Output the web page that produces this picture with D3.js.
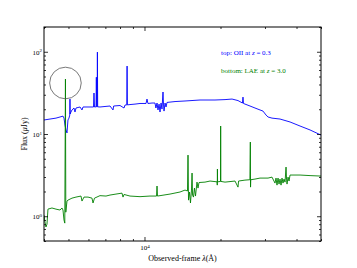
<!DOCTYPE html>
<html>
<head>
<meta charset="utf-8">
<script src="https://cdn.jsdelivr.net/npm/d3@7"></script>
<style>
  body { margin: 0; background: #fff; }
  text { font-family: "Liberation Serif", "DejaVu Serif", serif; }
</style>
</head>
<body>
<div id="chart"></div>
<script>
var W = 357, H = 268;
var margin = { top: 27, left: 44, bottom: 27, right: 36 };
var width = W - margin.left - margin.right;
var height = H - margin.top - margin.bottom;

// top spectrum: [OII] emitter at z = 0.3  (wavelength in Angstrom, flux in uJy)
var topWave = [4000, 4225, 4462, 4628, 4756, 4800, 4844, 4888, 4933, 4977, 5023, 5060, 5069, 5080, 5093,
    5163, 5258, 5306, 5355, 5555, 5656, 5709, 5975, 6281, 6310, 6340, 6430, 6447, 6465, 6495, 6509, 6525,
    6665, 6977, 7302, 7505, 7550, 8000, 8297, 8374, 8510, 8532, 8555, 8761, 9171, 9600, 10140, 10230, 10320,
    10710, 11005, 11100, 11210, 11310, 11420, 11520, 11630, 11730, 11840, 11890, 11950, 12060, 12170, 12280,
    13210, 14470, 16590, 19020, 20840, 22220, 23460, 24440, 24550, 24660, 26170, 27390, 28670, 29460, 30290,
    30850, 31980, 34410, 37700, 41300, 45240, 50000];
var topFlux = [14.8, 15.2, 15.6, 16.1, 16.5, 15.6, 12.8, 11.2, 10.3, 14.8, 15.6, 17.0, 26.6, 17.5, 18.0,
    19.6, 20.7, 18.5, 20.7, 21.3, 19.6, 21.3, 21.3, 21.3, 31.5, 21.3, 21.4, 49, 21.4, 21.4, 99, 21.4,
    21.3, 21.6, 21.9, 19.6, 21.9, 22.2, 20.7, 22.5, 22.6, 67, 22.6, 22.8, 23.1, 23.5, 23.5, 26.6, 23.5,
    23.8, 23.8, 20.7, 23.8, 19.6, 23.1, 18.5, 23.8, 20.1, 32.4, 23.1, 19.0, 23.8, 21.3, 24.2,
    24.8, 25.2, 25.9, 25.9, 26.2, 26.6, 25.5, 23.8, 28.1, 23.5, 21.9, 20.7, 19.6, 19.0, 17.0,
    16.1, 15.6, 15.2, 14.0, 12.5, 11.2, 9.7];

// bottom spectrum: Lyman-alpha emitter at z = 3.0
var botWave = [4000, 4036, 4073, 4110, 4147, 4301, 4462, 4628, 4713, 4756, 4800, 4835, 4864, 4880, 4933,
    4977, 5163, 5355, 5605, 5656, 5760, 5975, 6196, 6254, 6340, 6665, 7040, 7302, 7712, 8147, 8222, 8297,
    8761, 9600, 10515, 11160, 11210, 11260, 12620, 13820, 14470, 14800, 14870, 14940, 15080, 15210, 15350,
    15430, 15500, 15630, 15770, 15920, 16140, 16290, 16440, 17360, 18180, 19380, 19420, 19444, 19470,
    20000, 20028, 20060, 20840, 22830, 23460, 23580, 25000, 26150, 26252, 26300, 26350, 27390, 28670,
    30850, 31980, 32870, 33180, 33480, 33790, 34100, 34410, 34730, 35040, 35360, 35680, 36020, 36350,
    36520, 36680, 37020, 37360, 37700, 41300, 45240, 50000];
var botFlux = [1.03, 0.85, 0.74, 0.80, 1.22, 1.26, 1.22, 1.19, 1.26, 1.19, 0.90, 0.825, 46.6, 1.12, 1.53,
    1.57, 1.66, 1.71, 1.76, 1.53, 1.71, 1.71, 1.66, 1.45, 1.66, 1.78, 1.76, 1.81, 1.86, 1.91, 1.71, 1.84,
    1.76, 1.73, 1.76, 1.76, 2.33, 1.76, 1.86, 1.97, 2.08, 2.03, 5.54, 1.57, 1.97, 1.45, 2.08,
    3.35, 1.81, 1.71, 2.20, 1.76, 2.60, 2.20, 2.57, 2.60, 2.68, 2.62, 2.39, 3.75, 2.62,
    2.65, 12.5, 2.65, 2.60, 2.68, 2.26, 2.68, 2.75, 2.78, 7.98, 2.26, 2.78, 2.83, 2.91,
    2.91, 2.99, 2.53, 2.91, 2.39, 2.91, 2.46, 2.83, 2.39, 2.91, 2.53, 2.83, 2.60, 3.96,
    2.83, 2.46, 2.99, 2.68, 3.17, 3.17, 3.12, 3.08];

var xMajor = [10000];
var xMinor = [4000, 5000, 6000, 7000, 8000, 9000, 20000, 30000, 40000, 50000];
var yMajor = [1, 10, 100];
var yMinor = [0.5, 0.6, 0.7, 0.8, 0.9, 2, 3, 4, 5, 6, 7, 8, 9, 20, 30, 40, 50, 60, 70, 80, 90, 200];

var labelTop = "top: OII at ";
var labelBot = "bottom: LAE at ";
var zTop = " = 0.3", zBot = " = 3.0";
var lineWave = 4864, lineFlux = 41.7;   // circled feature

var svg = d3.select("#chart").append("svg")
    .attr("width", W)
    .attr("height", H)
    .append("g")
    .attr("transform", "translate(" + margin.left + "," + margin.top + ")");

var x = d3.scaleLog().domain([4000, 50000]).range([0, width]);
var y = d3.scaleLog().domain([0.5, 200]).range([height, 0]);

svg.append("clipPath").attr("id", "clip")
    .append("rect").attr("width", width).attr("height", height);

var line = d3.line()
    .x(function (d) { return x(d[0]); })
    .y(function (d) { return y(d[1]); });

var topData = topWave.map(function (w, i) { return [w, topFlux[i]]; });
var botData = botWave.map(function (w, i) { return [w, botFlux[i]]; });

var plot = svg.append("g").attr("clip-path", "url(#clip)");
plot.append("path").datum(topData)
    .attr("d", line)
    .attr("fill", "none")
    .attr("stroke", "#0000ff")
    .attr("stroke-width", 0.9);
plot.append("path").datum(botData)
    .attr("d", line)
    .attr("fill", "none")
    .attr("stroke", "#008000")
    .attr("stroke-width", 0.9);

// circle round the line
svg.append("circle")
    .attr("cx", x(lineWave))
    .attr("cy", y(lineFlux))
    .attr("r", 15.8)
    .attr("fill", "none")
    .attr("stroke", "#555")
    .attr("stroke-width", 0.8);

// power-of-ten labels
function sup(sel, exp) {
    sel.each(function (d) {
        var t = d3.select(this).text("");
        t.append("tspan").text("10");
        t.append("tspan").attr("dy", "-0.45em").attr("font-size", "5px")
            .text(Math.round(Math.log10(d)));
    });
}

// axes, ticks inward
function tickAxis(axis, g) {
    g.call(axis);
    g.select(".domain").remove();
    g.selectAll(".tick line").attr("stroke", "#000").attr("stroke-width", 0.8);
    g.selectAll("text").attr("font-family", "Liberation Serif").attr("font-size", "7px").attr("fill", "#000");
    return g;
}

var gx = tickAxis(d3.axisBottom(x).tickValues(xMajor).tickSize(-4).tickPadding(3),
    svg.append("g").attr("transform", "translate(0," + height + ")"));
sup(gx.selectAll(".tick text").attr("dy", "0.9em"), 0);
tickAxis(d3.axisBottom(x).tickValues(xMinor).tickSize(-2).tickFormat(""),
    svg.append("g").attr("transform", "translate(0," + height + ")"));
tickAxis(d3.axisTop(x).tickValues(xMajor).tickSize(-4).tickFormat(""), svg.append("g"));
tickAxis(d3.axisTop(x).tickValues(xMinor).tickSize(-2).tickFormat(""), svg.append("g"));

var gy = tickAxis(d3.axisLeft(y).tickValues(yMajor).tickSize(-4).tickPadding(2), svg.append("g"));
sup(gy.selectAll(".tick text"), 0);
tickAxis(d3.axisLeft(y).tickValues(yMinor).tickSize(-2).tickFormat(""), svg.append("g"));
tickAxis(d3.axisRight(y).tickValues(yMajor).tickSize(-4).tickFormat(""),
    svg.append("g").attr("transform", "translate(" + width + ",0)"));
tickAxis(d3.axisRight(y).tickValues(yMinor).tickSize(-2).tickFormat(""),
    svg.append("g").attr("transform", "translate(" + width + ",0)"));

// frame
svg.append("rect")
    .attr("width", width).attr("height", height)
    .attr("fill", "none").attr("stroke", "#000").attr("stroke-width", 1);

// legend texts
var t1 = svg.append("text").attr("x", 177).attr("y", 28)
    .attr("font-size", "7px").attr("fill", "#0000ff");
t1.append("tspan").text(labelTop);
t1.append("tspan").attr("font-style", "italic").text("z");
t1.append("tspan").text(zTop);

var t2 = svg.append("text").attr("x", 177).attr("y", 46)
    .attr("font-size", "7px").attr("fill", "#008000");
t2.append("tspan").text(labelBot);
t2.append("tspan").attr("font-style", "italic").text("z");
t2.append("tspan").text(zBot);

// axis labels
var xl = svg.append("text")
    .attr("x", width / 2).attr("y", height + 20)
    .attr("text-anchor", "middle").attr("font-size", "8px");
xl.append("tspan").text("Observed-frame ");
xl.append("tspan").attr("font-style", "italic").text("λ");
xl.append("tspan").text("(Å)");

var yl = svg.append("text")
    .attr("transform", "rotate(-90)")
    .attr("x", -height / 2).attr("y", -17)
    .attr("text-anchor", "middle").attr("font-size", "8px");
yl.append("tspan").text("Flux (");
yl.append("tspan").attr("font-style", "italic").text("μ");
yl.append("tspan").text("Jy)");
</script>
</body>
</html>
